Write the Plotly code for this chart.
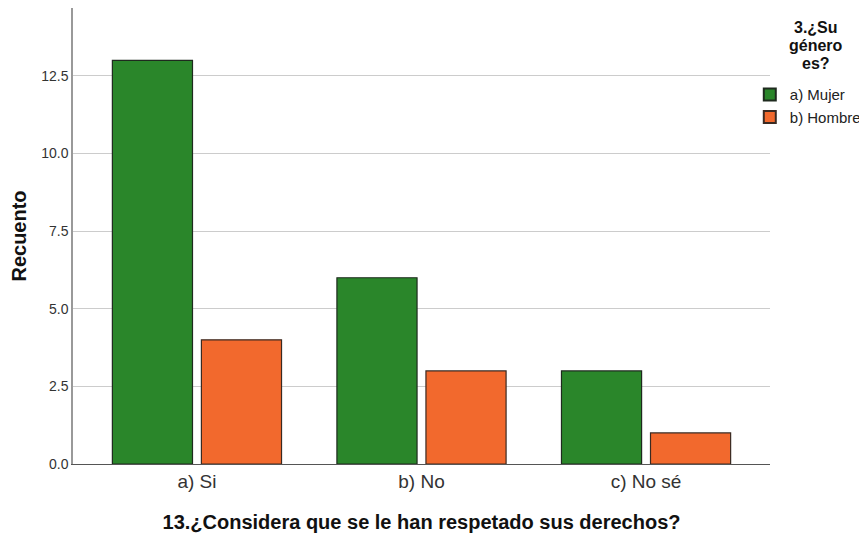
import plotly.graph_objects as go

categories = ["a) Si", "b) No", "c) No sé"]
mujer = [13, 6, 3]
hombre = [4, 3, 1]
series_names = ["a) Mujer", "b) Hombre"]
y_ticks = [0, 2.5, 5, 7.5, 10, 12.5]
y_tick_labels = ["0.0", "2.5", "5.0", "7.5", "10.0", "12.5"]
legend_title_lines = ["3.¿Su", "género", "es?"]

fig = go.Figure()
fig.add_trace(go.Bar(x=categories, y=mujer, name=series_names[0],
                     marker=dict(color="#2a862a", line=dict(color="#1e2a1e", width=1.2))))
fig.add_trace(go.Bar(x=categories, y=hombre, name=series_names[1],
                     marker=dict(color="#f2692d", line=dict(color="#3a2a22", width=1.2))))

title_y = [0.958, 0.918, 0.879]
annotations = [dict(text="<b>%s</b>" % t, xref="paper", yref="paper",
                    x=1.066, y=yy, xanchor="center", yanchor="middle", showarrow=False,
                    font=dict(size=16, color="#111111"))
               for t, yy in zip(legend_title_lines, title_y)]

fig.update_layout(
    width=859, height=527,
    margin=dict(l=65, r=97, t=0, b=71, autoexpand=False),
    paper_bgcolor="white", plot_bgcolor="white",
    barmode="group", bargap=0.207, bargroupgap=0.1,
    font=dict(family="Liberation Sans, Arial, sans-serif", color="#222222"),
    showlegend=True,
    legend=dict(x=0.971, xanchor="left", y=0.846, yanchor="top",
                font=dict(size=15, color="#222222"),
                itemsizing="constant", tracegroupgap=0,
                bgcolor="rgba(0,0,0,0)"),
    xaxis=dict(type="category", range=[-0.552, 2.552],
               showline=True, linecolor="#555555", linewidth=1,
               ticks="", tickfont=dict(size=19, color="#333333"),
               title=dict(text="<b>13.¿Considera que se le han respetado sus derechos?</b>",
                          font=dict(size=20, color="#111111"), standoff=24)),
    yaxis=dict(range=[0, 14.69], tickvals=y_ticks, ticktext=y_tick_labels,
               showgrid=True, gridcolor="#cccccc", gridwidth=1,
               showline=True, linecolor="#999999", linewidth=1.5,
               zeroline=False, ticks="", tickfont=dict(size=14, color="#333333"),
               title=dict(text="<b>Recuento</b>", font=dict(size=20, color="#111111"),
                          standoff=18)),
    annotations=annotations,
)

fig.write_html("out.html")
